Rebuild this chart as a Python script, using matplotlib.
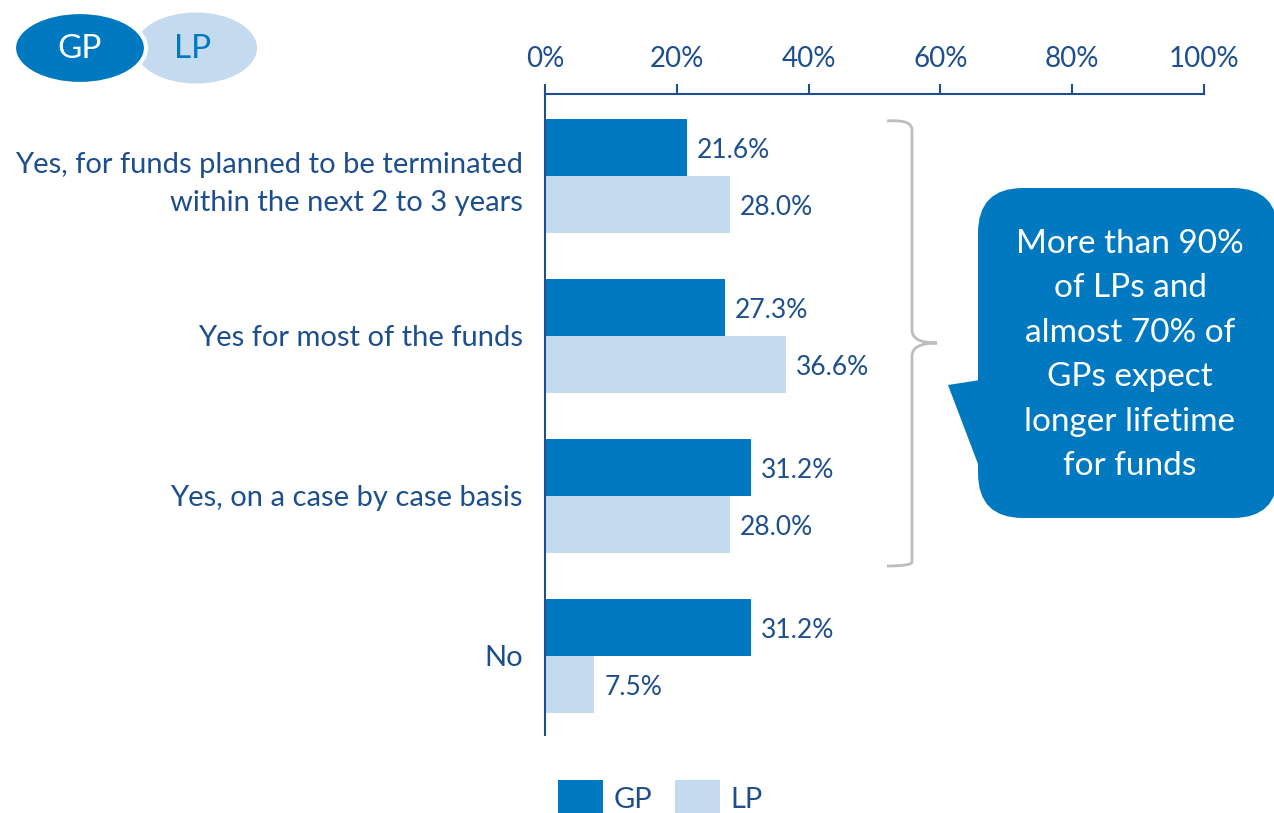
import matplotlib
matplotlib.use("Agg")
import matplotlib.pyplot as plt
from matplotlib.patches import Ellipse, FancyBboxPatch, Polygon, Rectangle
from matplotlib.path import Path
from matplotlib.patches import PathPatch

plt.rcParams['font.family'] = ['Lato', 'DejaVu Sans']

categories = ["Yes, for funds planned to be terminated\nwithin the next 2 to 3 years",
              "Yes for most of the funds",
              "Yes, on a case by case basis",
              "No"]
gp_values = [21.6, 27.3, 31.2, 31.2]
lp_values = [28.0, 36.6, 28.0, 7.5]
xticks = [0, 20, 40, 60, 80, 100]
series = ["GP", "LP"]
callout_text = "More than 90%\nof LPs and\nalmost 70% of\nGPs expect\nlonger lifetime\nfor funds"

GP_C = "#0079c1"
LP_C = "#c4dbef"
NAVY = "#1d4f8e"

W, H = 1274, 813
fig = plt.figure(figsize=(W / 100, H / 100), dpi=100)

def fx(px):
    return px / W

def fy(py):
    return 1 - py / H

ax = fig.add_axes([fx(545), fy(735), fx(1204) - fx(545), fy(94) - fy(735)])
bh = 57 / 160
ys = list(range(len(categories)))
ax.barh([y - bh / 2 for y in ys], gp_values, height=bh, color=GP_C, linewidth=0)
ax.barh([y + bh / 2 for y in ys], lp_values, height=bh, color=LP_C, linewidth=0)
for y, g, l in zip(ys, gp_values, lp_values):
    ax.text(g + 1.5, y - bh / 2 + 0.02, f"{g:.1f}%", va="center", ha="left", fontsize=19, color=NAVY)
    ax.text(l + 1.5, y + bh / 2 + 0.02, f"{l:.1f}%", va="center", ha="left", fontsize=19, color=NAVY)

ax.set_xlim(0, 100)
ax.set_ylim(3.494, -0.5125)
ax.xaxis.tick_top()
ax.set_xticks(xticks)
ax.set_xticklabels([f"{t}%" for t in xticks], fontsize=20, color=NAVY)
ax.tick_params(axis="x", length=7, width=1.5, color=NAVY, pad=9)
ax.set_yticks(ys)
ax.set_yticklabels(categories, fontsize=21, color=NAVY, linespacing=1.55)
ax.tick_params(axis="y", length=0, pad=16)
for s in ["right", "bottom"]:
    ax.spines[s].set_visible(False)
ax.spines["top"].set_color(NAVY)
ax.spines["left"].set_color(NAVY)
ax.spines["top"].set_linewidth(1.5)
ax.spines["left"].set_linewidth(1.5)
ax.set_facecolor("none")

# overlay axes in pixel coordinates for decorations
ov = fig.add_axes([0, 0, 1, 1])
ov.set_xlim(0, W)
ov.set_ylim(H, 0)
ov.axis("off")
ov.patch.set_alpha(0)

# top-left legend ellipses
ov.add_patch(Ellipse((196, 48), 122, 71, facecolor=LP_C, edgecolor="none"))
ov.add_patch(Ellipse((80, 48), 132, 72, facecolor=GP_C, edgecolor="white", linewidth=3))
ov.text(80, 49, series[0], color="white", fontsize=24, ha="center", va="center")
ov.text(193, 49, series[1], color=GP_C, fontsize=24, ha="center", va="center")

# brace
verts = [(887, 121), (912, 119), (912, 130), (912, 140),
         (912, 330), (912, 343), (937, 343),
         (912, 343), (912, 356), (912, 550),
         (912, 562), (912, 566), (887, 566)]
codes = [Path.MOVETO, Path.CURVE3, Path.CURVE3, Path.LINETO,
         Path.LINETO, Path.CURVE3, Path.CURVE3,
         Path.CURVE3, Path.CURVE3, Path.LINETO,
         Path.LINETO, Path.CURVE3, Path.CURVE3]
ov.add_patch(PathPatch(Path(verts, codes), facecolor="none", edgecolor="#bdbdbd", linewidth=2))

# callout
ov.add_patch(FancyBboxPatch((978 + 45, 188 + 45), 300 - 90, 330 - 90,
                            boxstyle="round,pad=45", facecolor=GP_C, edgecolor="none"))
ov.add_patch(Polygon([(980, 380), (948, 385), (978, 464), (990, 464), (990, 380)],
                     closed=True, facecolor=GP_C, edgecolor="none"))
ov.text(1130, 355, callout_text, color="white", fontsize=24, ha="center", va="center",
        linespacing=1.6)

# bottom legend
ov.add_patch(Rectangle((558, 780), 45, 35, facecolor=GP_C, edgecolor="none"))
ov.add_patch(Rectangle((675, 780), 45, 35, facecolor=LP_C, edgecolor="none"))
ov.text(614, 800, series[0], color=NAVY, fontsize=21, ha="left", va="center")
ov.text(730, 800, series[1], color=NAVY, fontsize=21, ha="left", va="center")

fig.savefig("out.png", dpi=100)
